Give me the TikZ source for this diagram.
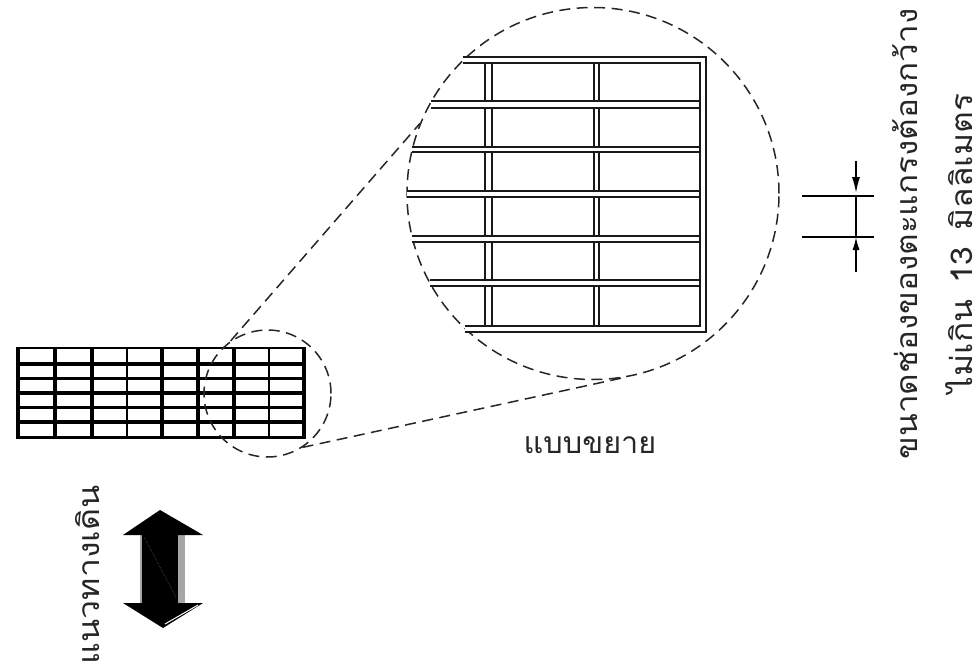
\documentclass[tikz,border=0pt]{standalone}
\usepackage{fontspec}
\newfontfamily\thaifont[Script=Thai]{Loma}
\usetikzlibrary{arrows.meta}

\tikzset{
  zoomcircle/.style={circle, draw=black!85, line width=1.5pt, dash pattern=on 11pt off 6.5pt, inner sep=0pt},
  zoomline/.style={draw=black!85, line width=1.5pt, dash pattern=on 11pt off 6.5pt},
  gridbar/.style={draw=black!90, line width=1.9pt, double=white},
  dimline/.style={draw=black, line width=1.5pt},
  thailabel/.style={text=black!85, inner sep=0pt, font=\thaifont\fontsize{30}{30}\selectfont},
}

\begin{document}
\begin{tikzpicture}[x=1pt, y=-1pt]

  \useasboundingbox (0,0) rectangle (978,672);

  % small grating
  \foreach \gx/\gw in {18/4, 55/4, 92/4, 127/1.5, 162/4, 198/4, 234/4, 269/1.5, 304/4}
    \draw[black, line width=\gw pt] (\gx,347) to (\gx,439);
  \foreach \gy/\gw in {348/2, 364/3.4, 378.5/3.4, 393/3.4, 407.5/3.4, 422/3.4, 437.5/2.5}
    \draw[black, line width=\gw pt] (16,\gy) to (306,\gy);

  % magnifying circles
  \node[zoomcircle, minimum size=127pt] (smallcircle) at (267.5,393.5) {};
  \node[zoomcircle, minimum size=372pt] (bigcircle) at (593,193.5) {};
  \draw[zoomline] (smallcircle.125) to (bigcircle.158);
  \draw[zoomline] (smallcircle.-57) to (bigcircle.-81);

  % enlarged grating
  \foreach \gx/\gd in {488.5/4.5, 596.5/3.5}
    \draw[gridbar, double distance=\gd pt] (\gx,62) to (\gx,327);
  \foreach \gy/\gx/\gd in {104.5/431/5.5, 149.5/412/3.5, 194/407/3.5, 239/412/3.5, 283/430/3.5}
    \draw[gridbar, double distance=\gd pt] (\gx,\gy) to (701,\gy);
  \draw[gridbar, double distance=3.5pt] (463,60) to (703,60) to (703,329) to (465,329);

  % mesh size dimension
  \coordinate (dimtop) at (856,161);
  \coordinate (dimupper) at (856,196);
  \coordinate (dimlower) at (856,237);
  \coordinate (dimbottom) at (856,272);
  \draw[dimline] (802,196) to (874,196);
  \draw[dimline] (802,237) to (874,237);
  \draw[dimline] (dimupper) to (dimlower);
  \draw[dimline, -{Latex[length=16pt, width=8pt]}] (dimtop) to ([yshift=3pt]dimupper);
  \draw[dimline, -{Latex[length=13pt, width=7pt]}] (dimbottom) to (dimlower);

  % walking direction arrow
  \fill[black!35] (178,535) rectangle (185,603);
  \fill[black!35] (140,535) rectangle (143,603);
  \fill[black] (142,535) rectangle (178,603);
  \draw[black!60, densely dotted, line width=0.5pt] (144,537) to (176,597);
  \fill[black] (160,510) to (203,535) to (123,535) to cycle;
  \fill[black] (123,603) to (203,603) to (163,628) to cycle;
  \draw[white, line width=1pt] (165,624) to (198,605);

  % labels
  \node[thailabel, rotate=90] (walklabel) at (88,575) {\scalebox{1.13}[1]{แนวทางเดิน}};
  \node[thailabel] (zoomlabel) at (590,445) {\scalebox{1.02}[1]{แบบขยาย}};
  \node[thailabel, rotate=90] (sizelabel) at (905,234) {\scalebox{1.11}[1]{ขนาดช่องของตะแกรงต้องกว้าง}};
  \node[thailabel, rotate=90] (limitlabel) at (959,243.5) {\scalebox{1.12}[1]{ไม่เกิน\hspace{14pt}13\hspace{14pt}มิลลิเมตร}};

\end{tikzpicture}
\end{document}
